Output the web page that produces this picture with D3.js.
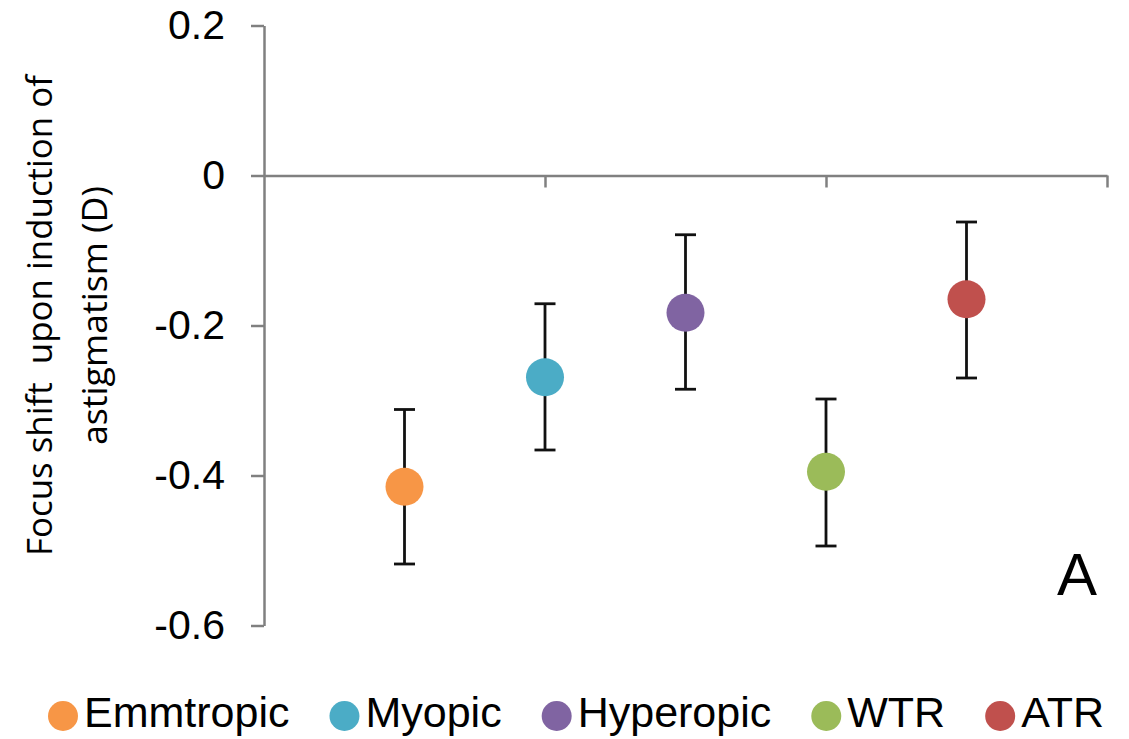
<!DOCTYPE html>
<html>
<head>
<meta charset="utf-8">
<script src="https://cdn.jsdelivr.net/npm/d3@7"></script>
<style>
  html, body { margin: 0; padding: 0; background: #fff; }
  svg { display: block; }
</style>
</head>
<body>
<svg id="chart" width="1129" height="739"></svg>
<script>
const categories = ["Emmtropic", "Myopic", "Hyperopic", "WTR", "ATR"];
const xPositions = [0.5, 1, 1.5, 2, 2.5];
const means = [-0.415, -0.269, -0.183, -0.395, -0.165];
const errLow = [-0.518, -0.366, -0.285, -0.494, -0.270];
const errHigh = [-0.312, -0.171, -0.079, -0.298, -0.062];
const colors = ["#F79646", "#4BACC6", "#8064A2", "#9BBB59", "#C0504D"];
const yTicks = [0.2, 0, -0.2, -0.4, -0.6];
const yTickLabels = ["0.2", "0", "-0.2", "-0.4", "-0.6"];
const xTicks = [1, 2, 3];
const yTitleLines = ["Focus shift  upon induction of", "astigmatism (D)"];
const panelLabel = "A";

const svg = d3.select("#chart");
const x = d3.scaleLinear().domain([0, 3]).range([264, 1107]);
const y = d3.scaleLinear().domain([-0.6, 0.2]).range([625.5, 25.5]);
const axisColor = "#808080";
const tickFont = "'Liberation Sans', Arial, sans-serif";

// X axis at zero
const gx = svg.append("g")
  .attr("transform", `translate(0,${y(0)})`)
  .call(d3.axisBottom(x).tickValues(xTicks).tickSize(12).tickSizeOuter(0).tickFormat(""));
gx.select(".domain").attr("stroke", axisColor).attr("stroke-width", 2.5);
gx.selectAll(".tick line").attr("stroke", axisColor).attr("stroke-width", 2.5);

// Y axis
const gy = svg.append("g")
  .attr("transform", `translate(${x(0)},0)`)
  .call(d3.axisLeft(y).tickValues(yTicks).tickSize(13).tickSizeOuter(0).tickPadding(26)
    .tickFormat((d, i) => yTickLabels[i]));
gy.select(".domain").attr("stroke", axisColor).attr("stroke-width", 2.5);
gy.selectAll(".tick line").attr("stroke", axisColor).attr("stroke-width", 2.5);
gy.selectAll(".tick text")
  .attr("fill", "#000")
  .style("font-family", tickFont)
  .style("font-size", "41px");

// Y title
const titleG = svg.append("g");
const titleX = [51.5, 107];
const titleLen = [481, 259];
yTitleLines.forEach((t, i) => {
  titleG.append("text")
    .attr("transform", `translate(${titleX[i]},${(y(0.2) + y(-0.6)) / 2 - 10}) rotate(-90)`)
    .attr("text-anchor", "middle")
    .attr("textLength", titleLen[i])
    .attr("lengthAdjust", "spacingAndGlyphs")
    .style("white-space", "pre")
    .style("font-family", "'Open Sans', 'Noto Sans', sans-serif")
    .style("font-size", "34px")
    .attr("fill", "#000")
    .text(t);
});

// Error bars
const data = categories.map((c, i) => ({ c, x: xPositions[i], m: means[i], lo: errLow[i], hi: errHigh[i], col: colors[i] }));
const eb = svg.append("g");
data.forEach(d => {
  eb.append("line").attr("x1", x(d.x)).attr("x2", x(d.x)).attr("y1", y(d.lo)).attr("y2", y(d.hi))
    .attr("stroke", "#111").attr("stroke-width", 2.8);
  [d.lo, d.hi].forEach(v => {
    eb.append("line").attr("x1", x(d.x) - 10.5).attr("x2", x(d.x) + 10.5).attr("y1", y(v)).attr("y2", y(v))
      .attr("stroke", "#111").attr("stroke-width", 2.8);
  });
});

// Points
svg.append("g").selectAll("circle").data(data).join("circle")
  .attr("cx", d => x(d.x)).attr("cy", d => y(d.m)).attr("r", 19)
  .attr("fill", d => d.col);

// Panel label
svg.append("text").attr("x", 1057).attr("y", 595)
  .style("font-family", tickFont).style("font-size", "60px").attr("fill", "#000")
  .text(panelLabel);

// Legend
const leg = svg.append("g");
let cx = 63;
categories.forEach((c, i) => {
  leg.append("circle").attr("cx", cx).attr("cy", 716).attr("r", 15).attr("fill", colors[i]);
  const t = leg.append("text").attr("x", cx + 21).attr("y", 727)
    .style("font-family", tickFont).style("font-size", "43px").attr("fill", "#000").text(c);
  const w = t.node().getComputedTextLength();
  cx = cx + 21 + w + 55;
});
</script>
</body>
</html>
